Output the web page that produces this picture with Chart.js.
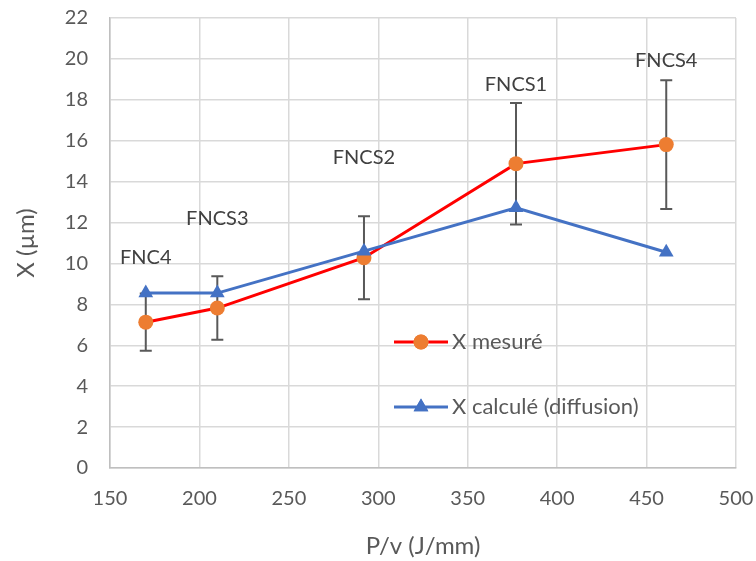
<!DOCTYPE html>
<html>
<head>
<meta charset="utf-8">
<script src="https://cdn.jsdelivr.net/npm/chart.js@4"></script>
<style>
  html, body { margin: 0; padding: 0; background: #fff; }
  #wrap { width: 756px; height: 561px; }
</style>
</head>
<body>
<div id="wrap"><canvas id="myChart"></canvas></div>
<script>
const ctx = document.getElementById('myChart');

// data
const samples = ['FNC4', 'FNCS3', 'FNCS2', 'FNCS1', 'FNCS4'];
const pv = [170, 210, 292, 377, 461];
const measured = [7.13, 7.82, 10.28, 14.88, 15.81];
const measuredErr = [1.4, 1.55, 2.03, 2.97, 3.15];
const calculated = [8.55, 8.55, 10.6, 12.72, 10.55];
const sampleLabelY = [10.3, 12.2, 15.2, 18.75, 19.9];

const FONT = 'Lato, "Open Sans", sans-serif';
const TXT = '#595959';

const toPts = (ys) => ys.map((y, i) => ({ x: pv[i], y: y }));

// error bars behind the markers
const errorBars = {
  id: 'errorBars',
  beforeDatasetsDraw(chart) {
    const c = chart.ctx, xs = chart.scales.x, ys = chart.scales.y;
    c.save();
    c.strokeStyle = '#595959';
    c.lineWidth = 2;
    pv.forEach((v, i) => {
      const x = xs.getPixelForValue(v);
      const top = ys.getPixelForValue(measured[i] + measuredErr[i]);
      const bot = ys.getPixelForValue(measured[i] - measuredErr[i]);
      c.beginPath();
      c.moveTo(x, top); c.lineTo(x, bot);
      c.moveTo(x - 6, top); c.lineTo(x + 6, top);
      c.moveTo(x - 6, bot); c.lineTo(x + 6, bot);
      c.stroke();
    });
    c.restore();
  }
};

// sample names + legend inside the plot
const extras = {
  id: 'extras',
  afterDraw(chart) {
    const c = chart.ctx, xs = chart.scales.x, ys = chart.scales.y;
    c.save();
    c.font = '20px ' + FONT;
    c.fillStyle = '#404040';
    c.textAlign = 'center';
    c.textBaseline = 'middle';
    samples.forEach((s, i) => {
      c.fillText(s, xs.getPixelForValue(pv[i]), ys.getPixelForValue(sampleLabelY[i]));
    });

    const items = [
      { text: 'X mesuré', line: '#FF0000', fill: '#ED7D31', style: 'circle', r: 7.5, y: 342 },
      { text: 'X calculé (diffusion)', line: '#4472C4', fill: '#4472C4', style: 'triangle', r: 8.5, y: 407 }
    ];
    c.font = '22px ' + FONT;
    items.forEach(it => {
      c.strokeStyle = it.line;
      c.lineWidth = 3;
      c.beginPath();
      c.moveTo(394, it.y); c.lineTo(448, it.y);
      c.stroke();
      c.fillStyle = it.fill;
      Chart.helpers.drawPoint(c, { pointStyle: it.style, radius: it.r, borderWidth: 0 }, 421, it.y);
      c.fill();
      c.fillStyle = TXT;
      c.textAlign = 'left';
      c.fillText(it.text, 452, it.y);
    });
    c.restore();
  }
};

const config = {
  type: 'line',
  data: {
    datasets: [
      {
        label: 'X mesuré',
        data: toPts(measured),
        borderColor: '#FF0000',
        borderWidth: 3,
        pointStyle: 'circle',
        pointRadius: 7.5,
        pointBackgroundColor: '#ED7D31',
        pointBorderColor: '#ED7D31',
        pointBorderWidth: 0,
        tension: 0,
        order: 2
      },
      {
        label: 'X calculé (diffusion)',
        data: toPts(calculated),
        borderColor: '#4472C4',
        borderWidth: 3,
        pointStyle: 'triangle',
        pointRadius: 8.5,
        pointBackgroundColor: '#4472C4',
        pointBorderColor: '#4472C4',
        pointBorderWidth: 0,
        tension: 0,
        order: 1
      }
    ]
  },
  options: {
    responsive: true,
    maintainAspectRatio: false,
    animation: false,
    layout: { padding: { top: 18, right: 20, left: 0, bottom: 0 } },
    plugins: {
      legend: { display: false },
      tooltip: { enabled: false }
    },
    scales: {
      x: {
        type: 'linear',
        min: 150, max: 500,
        ticks: { stepSize: 50, color: TXT, font: { family: FONT, size: 20 }, padding: 19, maxRotation: 0 },
        grid: { color: '#D9D9D9', lineWidth: 1.5, drawTicks: false },
        border: { color: '#BFBFBF', width: 1.5 },
        title: { display: true, text: 'P/v (J/mm)', color: TXT, font: { family: FONT, size: 24 }, padding: { top: 0, bottom: 0 } },
        afterFit(s) { s.height = 93; s.paddingLeft = 0; s.paddingRight = 0; }
      },
      y: {
        min: 0, max: 22,
        ticks: { stepSize: 2, color: TXT, font: { family: FONT, size: 20 }, padding: 22 },
        grid: { color: '#D9D9D9', lineWidth: 1.5, drawTicks: false },
        border: { color: '#BFBFBF', width: 1.5 },
        title: { display: true, text: 'X (µm)', color: TXT, font: { family: FONT, size: 24 }, padding: { top: 12, bottom: 0 } },
        afterFit(s) { s.width = 110; s.paddingTop = 0; s.paddingBottom = 0; }
      }
    }
  },
  plugins: [errorBars, extras]
};

let chart = new Chart(ctx, config);
</script>
</body>
</html>
